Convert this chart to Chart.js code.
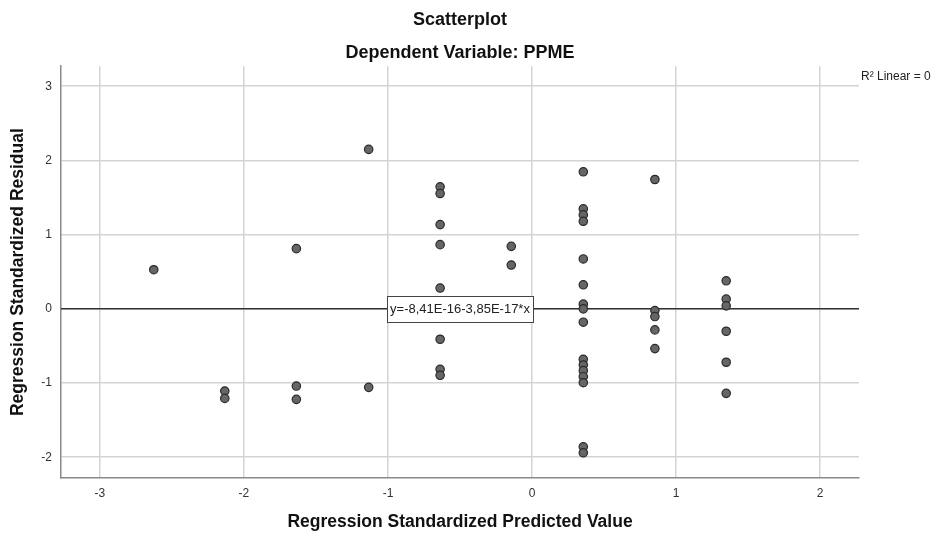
<!DOCTYPE html>
<html>
<head>
<meta charset="utf-8">
<title>Scatterplot</title>
<script src="https://cdn.jsdelivr.net/npm/chart.js@4.4.0/dist/chart.umd.min.js"></script>
<style>
    html, body { margin: 0; padding: 0; background: #fff; }
    #wrap { width: 934px; height: 535px; }
</style>
</head>
<body>
<div id="wrap"><canvas id="residPlot" width="934" height="535"></canvas></div>
<script>
// standardized predicted value per case
const predicted = [
    -2.626,
    -2.133, -2.133,
    -1.636, -1.636, -1.636,
    -1.134, -1.134,
    -0.638, -0.638, -0.638, -0.638, -0.638, -0.638, -0.638, -0.638,
    -0.144, -0.144,
    0.356, 0.356, 0.356, 0.356, 0.356, 0.356, 0.356, 0.356,
    0.356, 0.356, 0.356, 0.356, 0.356, 0.356, 0.356, 0.356,
    0.853, 0.853, 0.853, 0.853, 0.853,
    1.348, 1.348, 1.348, 1.348, 1.348, 1.348
];

// standardized residual per case (same order)
const residual = [
    0.527,
    -1.108, -1.207,
    0.811, -1.041, -1.220,
    2.149, -1.058,
    1.644, 1.554, 1.135, 0.865, 0.280, -0.410, -0.815, -0.896,
    0.842, 0.590,
    1.847, 1.347, 1.266, 1.180, 0.672, 0.324, 0.063, 0.000,
    -0.180, -0.680, -0.757, -0.833, -0.915, -0.996, -1.860, -1.940,
    1.743, -0.023, -0.104, -0.284, -0.536,
    0.378, 0.131, 0.040, -0.302, -0.720, -1.139
];

// fit line y = a + b*x
const fitIntercept = -8.41e-16;
const fitSlope = -3.85e-17;
const fitLabel = 'y=-8,41E-16-3,85E-17*x';
const fitLabelAt = -0.5;
const rSquaredText = 'R² Linear = 0';

const xRange = [-3.27, 2.27];
const yRange = [-2.28, 3.27];

const FONT = '"Liberation Sans", Arial, sans-serif';

function toPoints(xs, ys) {
    const out = [];
    for (let i = 0; i < xs.length; i++) {
        out.push({x: xs[i], y: ys[i]});
    }
    return out;
}

function fitLine() {
    return xRange.map(function (x) {
        return {x: x, y: fitIntercept + fitSlope * x};
    });
}

// equation box on the fit line and the R² note at the top right
const notes = {
    id: 'notes',
    afterDraw(chart) {
        const ctx = chart.ctx;
        const xs = chart.scales.x;
        const ys = chart.scales.y;
        const area = chart.chartArea;

        ctx.save();
        ctx.font = '13px ' + FONT;
        ctx.textBaseline = 'middle';
        ctx.textAlign = 'center';
        const cx = xs.getPixelForValue(fitLabelAt);
        const cy = ys.getPixelForValue(fitIntercept + fitSlope * fitLabelAt);
        const w = Math.round(ctx.measureText(fitLabel).width + 6);
        const h = 26;
        const bx = Math.round(cx - w / 2) + 0.5;
        const by = Math.round(cy - h / 2) + 0.5;
        ctx.fillStyle = '#fff';
        ctx.fillRect(bx, by, w, h);
        ctx.strokeStyle = '#444';
        ctx.lineWidth = 1;
        ctx.strokeRect(bx, by, w, h);
        ctx.fillStyle = '#222';
        ctx.fillText(fitLabel, cx, cy + 1);

        ctx.font = '12px ' + FONT;
        ctx.textAlign = 'left';
        ctx.fillStyle = '#222';
        ctx.fillText(rSquaredText, area.right + 2, 77);
        ctx.restore();
    }
};

const ctx = document.getElementById('residPlot');
const residChart = new Chart(ctx, {
    data: {
        datasets: [
            {
                type: 'scatter',
                label: 'residuals',
                data: toPoints(predicted, residual),
                pointRadius: 4.2,
                pointHoverRadius: 4.2,
                pointBackgroundColor: '#666',
                pointBorderColor: '#2a2a2a',
                pointBorderWidth: 1.2,
                order: 1
            },
            {
                type: 'line',
                label: 'fit',
                data: fitLine(),
                borderColor: '#333',
                borderWidth: 1.5,
                pointRadius: 0,
                fill: false,
                order: 2
            }
        ]
    },
    options: {
        responsive: false,
        animation: false,
        layout: {
            padding: {left: 0, right: 75, top: 0, bottom: 0}
        },
        plugins: {
            legend: {display: false},
            tooltip: {enabled: false},
            title: {
                display: true,
                fullSize: false,
                text: 'Scatterplot',
                color: '#111',
                font: {family: FONT, size: 18, weight: 'bold'},
                padding: {top: 9, bottom: 12}
            },
            subtitle: {
                display: true,
                fullSize: false,
                text: 'Dependent Variable: PPME',
                color: '#111',
                font: {family: FONT, size: 18, weight: 'bold'},
                padding: {top: 0, bottom: 2}
            }
        },
        scales: {
            x: {
                type: 'linear',
                min: xRange[0],
                max: xRange[1],
                afterFit: function (scale) { scale.height = 57; },
                border: {display: true, color: '#8a8a8a', width: 1.5},
                grid: {color: '#d4d4d4', lineWidth: 1.5, drawTicks: false},
                ticks: {
                    stepSize: 1,
                    includeBounds: false,
                    padding: 8,
                    color: '#333',
                    font: {family: FONT, size: 12}
                },
                title: {
                    display: true,
                    text: 'Regression Standardized Predicted Value',
                    color: '#111',
                    font: {family: FONT, size: 17.5, weight: 'bold'},
                    padding: {top: 0, bottom: 2.5}
                }
            },
            y: {
                type: 'linear',
                min: yRange[0],
                max: yRange[1],
                afterFit: function (scale) { scale.width = 61; },
                border: {display: true, color: '#8a8a8a', width: 1.5},
                grid: {color: '#d4d4d4', lineWidth: 1.5, drawTicks: false},
                ticks: {
                    stepSize: 1,
                    includeBounds: false,
                    padding: 9,
                    color: '#333',
                    font: {family: FONT, size: 12}
                },
                title: {
                    display: true,
                    text: 'Regression Standardized Residual',
                    color: '#111',
                    font: {family: FONT, size: 17.5, weight: 'bold'},
                    padding: {top: 7.5, bottom: 0}
                }
            }
        }
    },
    plugins: [notes]
});
</script>
</body>
</html>
